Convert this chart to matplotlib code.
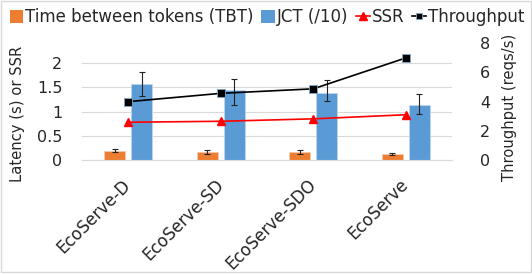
import numpy as np
import matplotlib
matplotlib.use('Agg')
import matplotlib.pyplot as plt
from matplotlib.lines import Line2D
from matplotlib.patches import Patch, Rectangle

systems = ['EcoServe-D', 'EcoServe-SD', 'EcoServe-SDO', 'EcoServe']
tbt = [0.19, 0.165, 0.165, 0.13]
tbt_err = [0.03, 0.04, 0.035, 0.025]
jct = [1.57, 1.44, 1.39, 1.13]
jct_err_lo = [0.24, 0.31, 0.18, 0.19]
jct_err_hi = [0.25, 0.24, 0.26, 0.23]
ssr = [0.78, 0.80, 0.85, 0.935]
throughput = [4.0, 4.57, 4.88, 7.0]

orange = '#ED7D31'
blue = '#5B9BD5'
txt = '#262626'

fig = plt.figure(figsize=(5.32, 2.74), dpi=100)
ax = fig.add_axes([0.154, 0.416, 0.696, 0.426])
x = np.arange(len(systems))
w = 0.227
off = 0.146

ax.bar(x - off, tbt, w, color=orange, edgecolor='#f6c9a9', linewidth=0.6,
       yerr=tbt_err, error_kw=dict(ecolor='#222222', elinewidth=0.8, capsize=2, capthick=0.8))
ax.bar(x + off, jct, w, color=blue, edgecolor='#bcd6ee', linewidth=0.6,
       yerr=[jct_err_lo, jct_err_hi],
       error_kw=dict(ecolor='#222222', elinewidth=0.8, capsize=2, capthick=0.8))

ax.set_xlim(-0.5, 3.5)
ax.set_ylim(0, 2.41)
ax.set_yticks([0, 0.5, 1, 1.5, 2])
ax.set_yticklabels(['0', '0.5', '1', '1.5', '2'])
ax.yaxis.grid(True, color='#d9d9d9', linewidth=0.8)
ax.set_axisbelow(True)
for s in ['top', 'left', 'right']:
    ax.spines[s].set_visible(False)
ax.spines['bottom'].set_color('#d9d9d9')
ax.tick_params(axis='y', length=0, pad=14, labelsize=11.5, labelcolor=txt)
ax.tick_params(axis='x', length=0, pad=16, labelsize=12, labelcolor=txt)
ax.set_xticks(x)
ax.set_xticklabels(systems, rotation=45, ha='right', va='center', rotation_mode='anchor')

ax2 = ax.twinx()
ax2.set_ylim(0, 8)
ax2.set_yticks([0, 2, 4, 6, 8])
for s in ax2.spines.values():
    s.set_visible(False)
ax2.tick_params(axis='y', length=0, pad=20, labelsize=11.5, labelcolor=txt)

ax2.plot(x, np.array(ssr) * 8 / 2.41, color='red', linewidth=1.2, marker='^',
         markersize=6, zorder=3)
ax2.plot(x, throughput, color='black', linewidth=1.2, marker='s', markersize=6,
         markeredgecolor='#7fa7c9', markeredgewidth=0.6, zorder=4)

fig.text(0.033, 0.584, 'Latency (s) or SSR', rotation=90, ha='center', va='center',
         fontsize=10.6, color=txt)
fig.text(0.957, 0.608, 'Throughput (reqs/s)', rotation=90, ha='center', va='center',
         fontsize=10.6, color=txt)

handles = [Patch(facecolor=orange), Patch(facecolor=blue),
           Line2D([], [], color='red', linewidth=1.2, marker='^', markersize=6),
           Line2D([], [], color='black', linewidth=1.2, marker='s', markersize=5,
                  markeredgecolor='#7fa7c9', markeredgewidth=0.6)]
labels = ['Time between tokens (TBT)', 'JCT (/10)', 'SSR', 'Throughput']
leg = fig.legend(handles, labels, loc='center', bbox_to_anchor=(0.502, 0.938), ncol=4,
                 frameon=False, fontsize=12, handlelength=0.8, handleheight=0.8,
                 handletextpad=0.15, columnspacing=0.45, borderpad=0)
for t in leg.get_texts():
    t.set_color(txt)

fig.patches.append(Rectangle((0.5 / 532, 1 - 271.5 / 274), 530 / 532, 271 / 274,
                             transform=fig.transFigure, fill=False,
                             edgecolor='#d9d9d9', linewidth=1))

fig.savefig('out.png', dpi=100)
